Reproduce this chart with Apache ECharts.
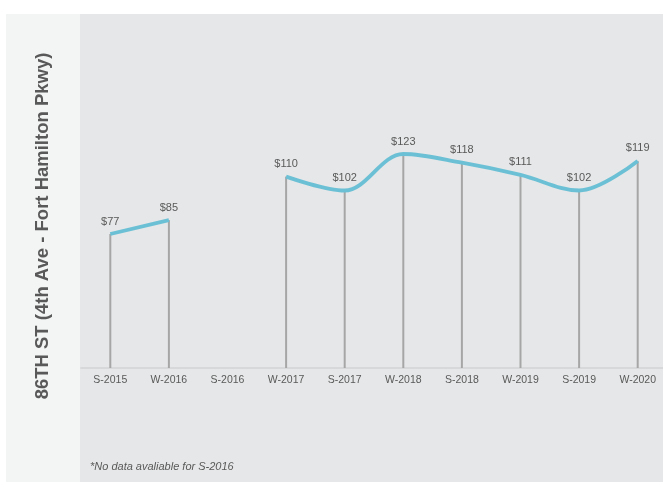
<!DOCTYPE html>
<html>
<head>
<meta charset="utf-8">
<script src="https://cdn.jsdelivr.net/npm/echarts@6/dist/echarts.min.js"></script>
<style>
  html, body { margin: 0; padding: 0; background: #ffffff; overflow: hidden; }
  #chart { width: 668px; height: 482px; }
</style>
</head>
<body>
<div id="chart"></div>
<script>
// Average fare by season, 86TH ST (4th Ave - Fort Hamilton Pkwy)
var categories = ['S-2015', 'W-2016', 'S-2016', 'W-2017', 'S-2017', 'W-2018', 'S-2018', 'W-2019', 'S-2019', 'W-2020'];
var fares = [77, 85, null, 110, 102, 123, 118, 111, 102, 119];
var stationTitle = '86TH ST (4th Ave - Fort Hamilton Pkwy)';
var footnote = '*No data avaliable for S-2016';

var chart = echarts.init(document.getElementById('chart'));
var textGray = '#595959';

chart.setOption({
  animation: false,
  backgroundColor: '#ffffff',
  graphic: [
    { type: 'rect', z: -10, shape: { x: 6, y: 14, width: 662, height: 468 }, style: { fill: '#f3f4f4' } },
    { type: 'rect', z: -9, shape: { x: 80, y: 14, width: 588, height: 468 }, style: { fill: '#e6e7e8' } },
    {
      type: 'text', x: 43, y: 226, rotation: Math.PI / 2,
      style: {
        text: stationTitle, fill: textGray,
        font: 'bold 18.5px "Liberation Sans", Arial, sans-serif',
        textAlign: 'center', textVerticalAlign: 'middle'
      }
    },
    {
      type: 'text', x: 90, y: 467,
      style: {
        text: footnote, fill: textGray,
        font: 'italic 11px "Liberation Sans", Arial, sans-serif',
        textAlign: 'left', textVerticalAlign: 'middle'
      }
    }
  ],
  grid: { left: 81, top: 20, width: 586, height: 348 },
  xAxis: {
    type: 'category',
    data: categories,
    boundaryGap: true,
    axisLine: { lineStyle: { color: '#d7d8d9', width: 2 } },
    axisTick: { show: false },
    axisLabel: {
      color: textGray, fontSize: 10.5, margin: 7,
      fontFamily: '"Liberation Sans", Arial, sans-serif'
    }
  },
  yAxis: {
    type: 'value', min: 0, max: 200,
    show: false,
    splitLine: { show: false }
  },
  series: [
    {
      // vertical drop lines from each point to the axis, carrying the value labels
      type: 'bar',
      data: fares,
      barWidth: 2,
      itemStyle: { color: '#a6a6a6' },
      z: 1,
      label: {
        show: true,
        position: 'top',
        distance: 7,
        color: textGray,
        fontSize: 11,
        fontFamily: '"Liberation Sans", Arial, sans-serif',
        formatter: function (p) { return '$' + p.value; }
      }
    },
    {
      type: 'line',
      data: fares,
      smooth: 0.35,
      connectNulls: false,
      showSymbol: false,
      symbol: 'none',
      lineStyle: { color: '#6cc0d5', width: 3.8 },
      z: 2
    }
  ]
});
</script>
</body>
</html>
